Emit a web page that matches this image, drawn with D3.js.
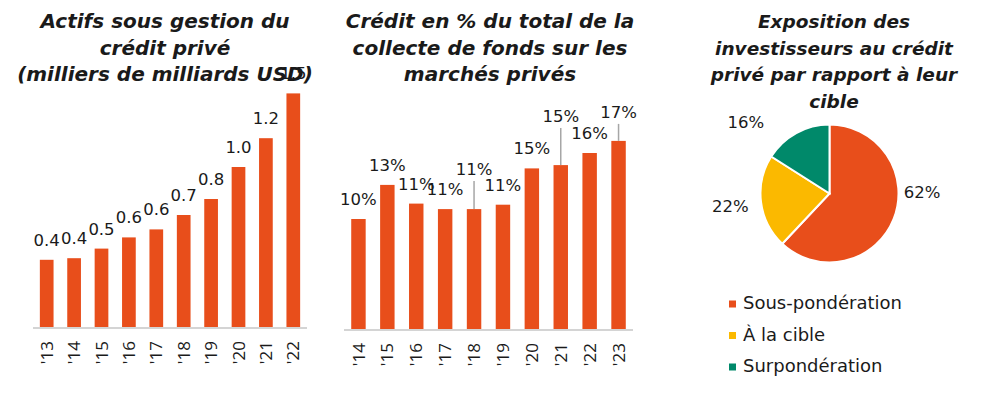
<!DOCTYPE html>
<html>
<head>
<meta charset="utf-8">
<script src="https://cdn.jsdelivr.net/npm/d3@7"></script>
<style>
  body { margin: 0; background: #fff; }
  text { font-family: "DejaVu Sans", sans-serif; fill: #1a1a1a; }
  .title { font-weight: 700; font-style: italic; font-size: 20px; }
  .tick { font-family: "Open Sans", sans-serif; }
</style>
</head>
<body>
<div id="chart"></div>
<script>
// chart 1 - actifs
var aumYears = ["'13", "'14", "'15", "'16", "'17", "'18", "'19", "'20", "'21", "'22"];
var aumValues = [0.42, 0.43, 0.49, 0.56, 0.61, 0.70, 0.80, 1.00, 1.18, 1.46];

// chart 2 - % collecte
var shareYears = ["'14", "'15", "'16", "'17", "'18", "'19", "'20", "'21", "'22", "'23"];
var shareValues = [10.0, 13.1, 11.4, 10.9, 10.9, 11.3, 14.6, 14.9, 16.0, 17.1];

// chart 3 - pie
var pieLabels = ["Sous-pondération", "À la cible", "Surpondération"];
var pieValues = [62, 22, 16];

var titles = [
  ["Actifs sous gestion du", "crédit privé", "(milliers de milliards USD)"],
  ["Crédit en % du total de la", "collecte de fonds sur les", "marchés privés"],
  ["Exposition des", "investisseurs au crédit", "privé par rapport à leur", "cible"]
];

var orange = "#e84e1b", yellow = "#fbb900", green = "#00896a";

var svg = d3.select("#chart").append("svg")
  .attr("width", 985).attr("height", 395);

function drawTitle(lines, cx, size) {
  var t = svg.append("text").attr("class", "title").attr("text-anchor", "middle")
    .style("font-size", size + "px");
  lines.forEach(function (l, i) {
    t.append("tspan").attr("x", cx).attr("y", 28 + i * 26.7).text(l);
  });
}
drawTitle(titles[0], 165, 20);
drawTitle(titles[1], 490, 20);
drawTitle(titles[2], 834, 18.5);

function barChart(cats, vals, x0, x1, base, yMax, yTop, fmt, raise) {
  var x = d3.scaleBand().domain(cats).range([x0, x1]).paddingInner(0.5).paddingOuter(0.25);
  var y = d3.scaleLinear().domain([0, yMax]).range([base, yTop]);
  var g = svg.append("g");
  var rows = vals.map(function (v, i) { return { cat: cats[i], v: v, up: raise[cats[i]] || 0 }; });
  var mid = function (d) { return x(d.cat) + x.bandwidth() / 2; };

  g.selectAll("rect").data(rows).enter().append("rect")
    .attr("x", function (d) { return x(d.cat); })
    .attr("y", function (d) { return y(d.v); })
    .attr("width", x.bandwidth())
    .attr("height", function (d) { return base - y(d.v); })
    .attr("fill", orange);

  g.append("line")
    .attr("x1", x0).attr("x2", x1).attr("y1", base + 1).attr("y2", base + 1)
    .attr("stroke", "#d4d4d4").attr("stroke-width", 2);

  // leader lines for raised labels
  g.selectAll("line.lead").data(rows.filter(function (d) { return d.up; })).enter()
    .append("line").attr("class", "lead")
    .attr("x1", mid).attr("x2", mid)
    .attr("y1", function (d) { return y(d.v); })
    .attr("y2", function (d) { return y(d.v) - 14 - d.up + 6; })
    .attr("stroke", "#a6a6a6").attr("stroke-width", 1.5);

  g.selectAll("text.val").data(rows).enter().append("text")
    .attr("class", "val")
    .attr("x", mid)
    .attr("y", function (d) { return y(d.v) - 14 - d.up; })
    .attr("text-anchor", "middle")
    .style("font-size", "16.5px")
    .text(function (d) { return fmt(d.v); });

  g.selectAll("text.tick").data(rows).enter().append("text")
    .attr("class", "tick")
    .attr("transform", function (d) {
      return "translate(" + mid(d) + "," + (base + 14) + ") rotate(-90)";
    })
    .attr("dy", "0.36em")
    .attr("text-anchor", "end")
    .style("font-size", "17px")
    .text(function (d) { return d.cat; });
}

barChart(aumYears, aumValues, 33, 307, 327, 1.5, 87, d3.format(".1f"), {});
barChart(shareYears, shareValues, 344, 633, 329, 20, 109,
  function (d) { return d3.format(".0f")(d) + "%"; },
  { "'18": 20, "'21": 29, "'23": 9 });

// pie
var cx = 829.5, cy = 193.5, r = 69;
var arcs = d3.pie().sort(null)(pieValues);
var arc = d3.arc().innerRadius(0).outerRadius(r);
var colors = [orange, yellow, green];
var pg = svg.append("g").attr("transform", "translate(" + cx + "," + cy + ")");
pg.selectAll("path").data(arcs).enter().append("path")
  .attr("d", arc)
  .attr("fill", function (d, i) { return colors[i]; })
  .attr("stroke", "#fff").attr("stroke-width", 2);

// label placement: angle shift (deg) and radius per slice
var labelShift = [-22.6, 0, -20.8], labelRad = [92.5, 100, 110];
pg.selectAll("text").data(arcs).enter().append("text")
  .attr("x", function (d, i) {
    var a = (d.startAngle + d.endAngle) / 2 + labelShift[i] * Math.PI / 180;
    return Math.sin(a) * labelRad[i];
  })
  .attr("y", function (d, i) {
    var a = (d.startAngle + d.endAngle) / 2 + labelShift[i] * Math.PI / 180;
    return -Math.cos(a) * labelRad[i];
  })
  .attr("dy", "0.36em")
  .attr("text-anchor", "middle")
  .style("font-size", "16.5px")
  .text(function (d) { return d.data + "%"; });

// legend
var lg = svg.append("g");
pieLabels.forEach(function (l, i) {
  lg.append("rect").attr("x", 729).attr("y", 300.5 + i * 31.5).attr("width", 7).attr("height", 7)
    .attr("fill", colors[i]);
  lg.append("text").attr("x", 743).attr("y", 309 + i * 31.5)
    .style("font-size", "18px").text(l);
});
</script>
</body>
</html>
